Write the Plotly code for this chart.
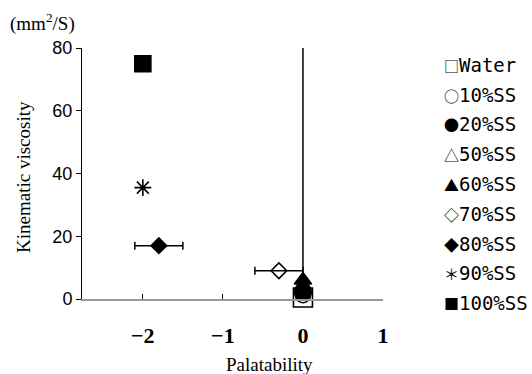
import plotly.graph_objects as go

# ---- data ----
series = ["Water", "10%SS", "20%SS", "50%SS", "60%SS", "70%SS", "80%SS", "90%SS", "100%SS"]
palatability = [0.0, 0.0, 0.0, 0.0, 0.0, -0.3, -1.8, -2.0, -2.0]
viscosity = [0.5, 1.2, 2.3, 3.0, 6.0, 9.0, 17.0, 35.5, 75.0]
palat_err = [0, 0, 0, 0, 0, 0.3, 0.3, 0, 0]
visc_err_up = [0, 0, 0, 0, 74.0, 0, 0, 0, 0]
legend_glyphs = ["□", "○", "●", "△", "▲", "◇", "◆", "＊", "■"]
x_ticks = [-2, -1, 0, 1]
y_ticks = [0, 20, 40, 60, 80]

# ---- styles ----
symbols = ["square-open", "circle-open", "circle", "triangle-up-open", "triangle-up",
           "diamond-open", "diamond", "asterisk-open", "square"]
sizes = [19, 15, 17, 15, 15, 12, 12, 14, 16]

fig = go.Figure()
for i, name in enumerate(series):
    tr = dict(
        x=[palatability[i]], y=[viscosity[i]], mode="markers", name=name,
        cliponaxis=False, showlegend=False,
        marker=dict(symbol=symbols[i], size=sizes[i], color="black",
                    line=dict(color="black", width=1.6)),
    )
    if palat_err[i]:
        tr["error_x"] = dict(type="data", array=[palat_err[i]], color="black",
                             thickness=1.5, width=4)
    if visc_err_up[i]:
        tr["error_y"] = dict(type="data", array=[visc_err_up[i]], arrayminus=[0],
                             symmetric=False, color="black", thickness=1.5, width=0)
    fig.add_trace(go.Scatter(**tr))

# legend as text (glyph + name)
plot_l, plot_r, plot_t, plot_b = 82, 149, 48, 75
W, H = 532, 374
pw = W - plot_l - plot_r
ph = H - plot_t - plot_b
for i, name in enumerate(series):
    ypix = 65 + i * 29.75
    fig.add_annotation(
        xref="paper", yref="paper",
        x=(442 - plot_l) / pw, y=(H - plot_b - ypix) / ph,
        xanchor="left", yanchor="middle", showarrow=False,
        text=('<span style="font-family:\'Noto Sans CJK JP\';font-size:15px">'
              + legend_glyphs[i] + "</span>" + name),
        font=dict(family="DejaVu Sans Mono", size=19, color="black"),
    )

serif = "Liberation Serif"
fig.add_annotation(xref="paper", yref="paper", x=(269 - plot_l) / pw, y=(H - plot_b - 364) / ph,
                   xanchor="center", yanchor="middle", showarrow=False,
                   text="Palatability", font=dict(family=serif, size=19, color="black"))
fig.add_annotation(xref="paper", yref="paper", x=(23 - plot_l) / pw, y=(H - plot_b - 177) / ph,
                   xanchor="center", yanchor="middle", showarrow=False, textangle=-90,
                   text="Kinematic viscosity", font=dict(family=serif, size=19, color="black"))
fig.add_annotation(xref="paper", yref="paper", x=(8 - plot_l) / pw, y=(H - plot_b - 22) / ph,
                   xanchor="left", yanchor="middle", showarrow=False,
                   text="(mm<sup>2</sup>/S)", font=dict(family=serif, size=19, color="black"))

fig.update_layout(
    width=W, height=H,
    margin=dict(l=plot_l, r=plot_r, t=plot_t, b=plot_b),
    plot_bgcolor="white", paper_bgcolor="white",
    showlegend=False,
)
fig.update_xaxes(
    range=[-2.76, 1.0], tickvals=x_ticks, ticks="inside", ticklen=5, tickwidth=1.2,
    tickcolor="black", showline=True, linecolor="#9a9a9a", linewidth=1.5,
    showgrid=False, zeroline=False, ticklabelstandoff=16,
    tickfont=dict(family="Liberation Sans Narrow", size=22, color="black", weight="bold"),
)
fig.update_yaxes(
    range=[0, 80], tickvals=y_ticks, ticks="outside", ticklen=5, tickwidth=1,
    tickcolor="black", showline=True, linecolor="black", linewidth=1,
    showgrid=False, zeroline=False,
    tickfont=dict(family="Liberation Sans", size=18, color="black"),
)

fig.write_html("out.html", config={"displayModeBar": False},
               post_script="document.body.style.margin='0';document.body.style.overflow='hidden';")
